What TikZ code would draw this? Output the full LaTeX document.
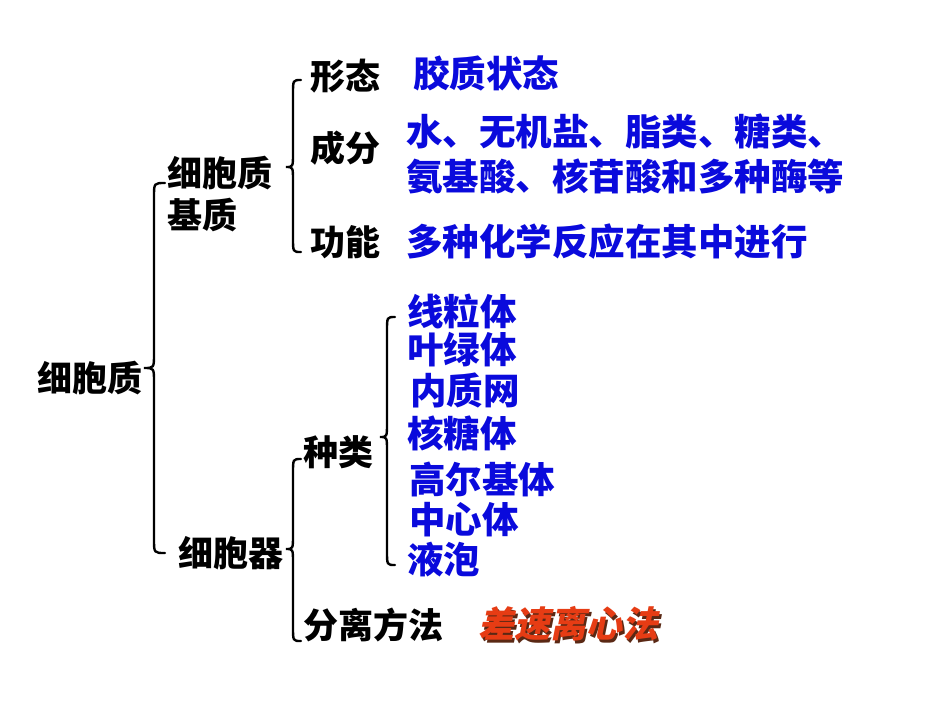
\documentclass[tikz,border=0pt]{standalone}
\usepackage{fontspec}
\newfontfamily\cjk{Noto Sans CJK SC}
\newfontfamily\cjkslant{Noto Sans CJK SC}[FakeSlant=0.2]
\definecolor{txtblue}{RGB}{10,10,220}
\definecolor{txtred}{RGB}{230,60,20}
\definecolor{shadowc}{RGB}{90,40,20}
\newcommand{\cbrace}[6]{% xend, xv, xtip, ytop, ytip, ybot
  \draw[bracestyle] (#1,#4) .. controls (#2,#4) .. (#2,#4+14) -- (#2,#5-14)
    .. controls (#2,#5) .. (#3,#5) .. controls (#2,#5) .. (#2,#5+14)
    -- (#2,#6-14) .. controls (#2,#6) .. (#1,#6);}
\newcommand{\shadowtext}[1]{\makebox[0pt][l]{\hspace{2.5pt}\raisebox{-2.5pt}{\color{shadowc}#1}}\color{txtred}#1}
\begin{document}
\begin{tikzpicture}[x=1pt,y=-1pt,
  bracestyle/.style={line width=2.4pt,black,line cap=round},
  blk/.style={anchor=west,inner sep=0pt,font=\cjk\bfseries\fontsize{35}{42}\selectfont,text=black},
  blu/.style={anchor=west,inner sep=0pt,font=\cjk\bfseries\fontsize{36.5}{42}\selectfont,text=txtblue},
  redt/.style={anchor=west,inner sep=0pt,font=\cjkslant\bfseries\fontsize{36}{42}\selectfont}]
\useasboundingbox (0,0) rectangle (950,713);
\fill[white] (0,0) rectangle (950,713);
% root
\node[blk] (root) at (37,378) {细胞质};
\cbrace{165}{154}{144}{183}{368}{553}
% matrix
\node[blk,align=left] (matrix) at (167,194) {细胞质\\基质};
\cbrace{301}{293}{286}{80}{167}{252}
\node[blk] (xt) at (310,76) {形态};
\node[blu] (xtv) at (413,73) {胶质状态};
\node[blk] (cf) at (310,148) {成分};
\node[blu] (cf1) at (406,131) {水、无机盐、脂类、糖类、};
\node[blu] (cf2) at (406,176) {氨基酸、核苷酸和多种酶等};
\node[blk] (gn) at (310,242) {功能};
\node[blu] (gnv) at (406,242) {多种化学反应在其中进行};
% organelles
\node[blk] (org) at (178,553) {细胞器};
\cbrace{301}{293}{286}{459}{549}{641}
\node[blk] (zl) at (303,452) {种类};
\cbrace{395}{387}{380}{317}{437}{565}
\node[blu] (o1) at (407,311) {线粒体};
\node[blu] (o2) at (407,350) {叶绿体};
\node[blu] (o3) at (410,390) {内质网};
\node[blu] (o4) at (407,433) {核糖体};
\node[blu] (o5) at (409,479) {高尔基体};
\node[blu] (o6) at (409,520) {中心体};
\node[blu] (o7) at (407,560) {液泡};
\node[blk] (ff) at (303,625) {分离方法};
\node[redt] (ffv) at (478,625) {\shadowtext{差速离心法}};
\end{tikzpicture}
\end{document}
